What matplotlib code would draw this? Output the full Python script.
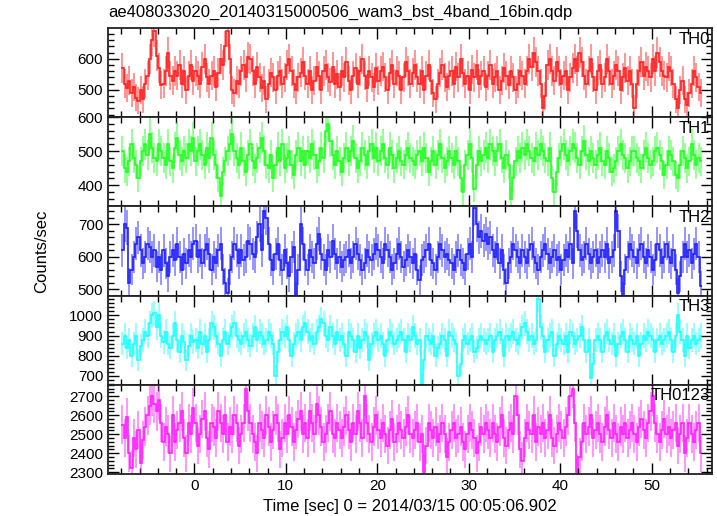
import numpy as np
import matplotlib
matplotlib.use("Agg")
import matplotlib.pyplot as plt
from matplotlib.ticker import MultipleLocator

plt.rcParams['font.family'] = ['Liberation Sans', 'DejaVu Sans']

title = "ae408033020_20140315000506_wam3_bst_4band_16bin.qdp"
xlabel = "Time [sec] 0 = 2014/03/15 00:05:06.902"
ylabel = "Counts/sec"
bands = ["TH0", "TH1", "TH2", "TH3", "TH0123"]
t_start = -7.875
bin_width = 0.25

th0 = np.array("""
570 520 505 530 490 510 475 465 500 470 520 545 600 660 690 610
570 515 520 560 620 545 530 560 545 580 520 560 500 545 580 530
560 545 520 575 600 540 520 545 560 510 555 600 580 640 690 600
500 490 530 520 560 580 540 605 600 560 520 575 540 505 530 470
520 555 540 500 545 560 520 540 580 600 560 520 500 540 555 590
545 520 560 500 530 575 545 500 560 580 540 525 575 520 550 510
560 540 590 530 500 545 570 520 560 600 545 505 560 540 510 570
530 560 575 540 500 555 580 520 560 545 500 540 590 560 520 555
580 540 520 560 500 545 580 530 490 470 520 555 580 540 510 545
560 520 575 540 600 555 520 545 500 565 540 580 520 545 560 510
545 580 520 540 560 500 530 570 545 515 560 540 500 520 560 545
520 560 600 575 620 590 560 520 440 480 580 600 560 530 590 560
520 545 560 500 540 570 600 560 620 590 545 520 560 600 540 500
560 580 520 540 600 560 520 545 580 560 500 540 570 530 560 520
440 520 560 590 545 575 560 540 600 560 620 590 560 545 540 575
560 520 470 440 500 530 470 450 490 520 560 540 510 490
""".split(), dtype=float)

th1 = np.array("""
500 450 440 470 520 480 460 420 470 500 520 490 550 510 480 470
520 500 480 460 520 470 450 510 540 490 470 500 480 520 500 540
470 500 520 490 460 510 480 540 490 460 420 370 440 470 500 520
550 500 480 460 510 470 440 490 520 470 450 480 510 540 500 460
450 490 420 460 510 470 520 450 480 500 460 430 490 510 470 500
460 500 480 520 490 450 470 510 480 560 580 530 490 460 500 470
440 480 510 470 500 530 480 450 470 510 490 460 500 520 480 510
470 500 520 480 460 510 490 450 480 500 470 460 490 510 480 470
460 490 500 470 510 480 440 470 500 460 490 520 480 450 470 500
480 460 500 470 420 380 460 490 520 480 390 460 500 470 490 510
480 520 500 470 500 520 480 450 490 460 360 420 470 500 480 510
490 520 500 480 470 510 490 520 500 480 470 510 420 380 440 480
500 520 490 470 500 520 510 480 460 500 530 490 470 500 480 460
490 510 470 460 500 480 440 450 470 500 520 490 480 450 470 500
500 480 470 450 490 510 480 460 470 500 510 490 470 430 460 500
490 470 430 420 460 500 480 450 470 520 490 460 480 470
""".split(), dtype=float)

th2 = np.array("""
620 700 690 520 560 600 640 660 620 580 600 640 630 600 620 570
600 560 620 580 540 600 620 590 640 600 560 610 580 620 600 640
650 600 620 580 620 640 610 560 600 580 620 640 560 520 490 560
600 640 620 580 620 590 600 650 640 610 600 660 700 620 740 720
640 590 560 610 640 590 560 620 580 540 600 630 480 560 700 640
590 560 620 600 580 640 670 610 590 560 620 600 650 610 580 600
570 590 600 620 580 600 640 610 590 560 580 620 600 590 610 640
620 600 580 640 620 600 560 580 610 640 600 570 590 620 600 580
610 560 530 590 600 620 640 590 580 560 600 640 620 600 610 590
580 560 600 620 590 580 560 610 640 600 750 700 660 680 650 670
640 660 620 600 640 580 620 560 520 580 600 640 620 600 580 620
600 580 620 640 600 580 560 600 620 640 610 580 600 620 590 600
560 590 620 600 640 580 740 680 620 590 600 640 610 580 600 620
580 600 620 600 640 580 600 620 740 680 540 480 560 600 640 620
600 580 620 640 600 580 620 600 560 590 640 620 580 600 640 600
580 620 560 490 540 600 640 600 620 580 610 640 600 510
""".split(), dtype=float)

th3 = np.array("""
860 900 840 880 800 860 900 780 850 880 920 900 960 1000 1010 940
1000 900 870 920 860 840 900 960 880 820 900 870 780 850 900 870
880 840 920 860 900 820 880 960 940 900 860 800 880 920 860 900
940 960 900 880 860 900 920 880 850 900 940 880 920 900 860 880
920 900 860 700 820 880 920 900 940 880 800 860 900 920 880 940
960 920 880 900 860 920 940 980 960 900 880 940 900 860 920 880
900 860 800 920 900 880 820 900 840 880 920 900 780 860 900 920
880 900 860 800 880 920 900 860 880 900 920 880 820 900 880 940
900 860 880 660 780 900 880 860 900 800 840 860 900 880 800 920
900 880 860 700 760 880 900 860 880 900 820 840 880 900 880 860
880 900 820 880 900 920 880 800 900 880 900 920 880 860 900 940
960 920 880 900 860 880 1080 940 900 820 880 900 920 800 860 900
880 860 900 820 920 900 860 880 900 940 880 820 880 690 760 880
900 880 820 900 920 880 860 900 800 860 900 920 880 820 900 880
860 900 800 860 900 880 920 900 880 820 880 900 860 880 900 920
880 820 900 1000 920 880 800 900 840 880 900 860 880 900
""".split(), dtype=float)

th0123 = np.array("""
2550 2480 2590 2400 2320 2480 2420 2520 2350 2470 2540 2600 2650 2700 2660 2620
2680 2560 2460 2540 2500 2400 2600 2460 2520 2560 2620 2480 2400 2560 2500 2640
2560 2440 2500 2580 2620 2480 2420 2560 2540 2480 2620 2560 2500 2600 2460 2540
2500 2600 2560 2440 2500 2560 2740 2620 2560 2500 2460 2400 2560 2520 2480 2600
2540 2460 2520 2600 2560 2420 2480 2560 2500 2600 2540 2460 2520 2580 2620 2500
2560 2480 2620 2560 2500 2660 2600 2540 2460 2500 2560 2620 2500 2480 2560 2520
2480 2540 2600 2520 2460 2560 2500 2620 2560 2480 2700 2560 2500 2460 2540 2600
2520 2480 2560 2500 2440 2520 2580 2460 2500 2560 2520 2480 2540 2600 2500 2480
2520 2560 2460 2500 2300 2440 2560 2520 2480 2540 2460 2500 2560 2500 2380 2460
2520 2560 2480 2500 2540 2460 2420 2500 2560 2520 2480 2400 2460 2540 2500 2560
2520 2480 2560 2500 2460 2540 2600 2480 2440 2520 2560 2500 2700 2600 2420 2360
2480 2560 2520 2500 2600 2460 2540 2500 2560 2480 2520 2600 2480 2440 2500 2560
2520 2480 2540 2600 2700 2740 2560 2300 2380 2460 2560 2500 2540 2600 2480 2520
2560 2500 2460 2540 2600 2520 2480 2560 2500 2460 2540 2500 2560 2480 2520 2560
2500 2460 2540 2580 2520 2480 2560 2620 2700 2560 2500 2460 2520 2580 2500 2540
2480 2520 2560 2440 2500 2560 2400 2480 2560 2500 2460 2520 2560 2400
""".split(), dtype=float)

series = [th0, th1, th2, th3, th0123]
colors = ["#ff2020", "#20ff20", "#2020ff", "#20ffff", "#ff20ff"]
ylims = [(412, 699), (338, 600), (481, 755), (656, 1098), (2290, 2760)]
xlim = (-9.45, 56.6)

W, H = 717, 516
fig = plt.figure(figsize=(W / 100, H / 100), dpi=100)

left_px, right_px = 108, 712
top_px, bottom_px = 28, 474
ph = (bottom_px - top_px) / 5.0

for k, (vals, col, yl, name) in enumerate(zip(series, colors, ylims, bands)):
    y0 = top_px + ph * (k + 1)
    ax = fig.add_axes([left_px / W, 1 - y0 / H, (right_px - left_px) / W, ph / H])
    t = t_start + bin_width * np.arange(len(vals))
    edges = t_start - bin_width / 2 + bin_width * np.arange(len(vals) + 1)
    err = 2.0 * np.sqrt(vals)
    ax.vlines(t, vals - err, vals + err, color=col, alpha=0.6, lw=1.1)
    ax.stairs(vals, edges, color=col, lw=1.2, baseline=None)
    ax.set_xlim(*xlim)
    ax.set_ylim(*yl)
    ax.xaxis.set_major_locator(MultipleLocator(10))
    ax.xaxis.set_minor_locator(MultipleLocator(2))
    ax.yaxis.set_major_locator(MultipleLocator(100))
    ax.yaxis.set_minor_locator(MultipleLocator(20))
    ax.tick_params(which='both', direction='in', top=True, right=True,
                   labelsize=11, colors='black', width=1)
    ax.tick_params(which='major', length=8)
    ax.tick_params(which='minor', length=4)
    for s in ax.spines.values():
        s.set_linewidth(1.3)
        s.set_color('#222222')
    if k < 4:
        ax.tick_params(labelbottom=False)
    ax.text(0.997, 0.96, name, transform=ax.transAxes, ha='right', va='top',
            fontsize=12)

fig.text(left_px / W, 1 - 12 / H, title, ha='left', va='center', fontsize=12)
fig.text(42 / W, 1 - 251 / H, ylabel, rotation=90, ha='center', va='center',
         fontsize=12)
fig.text((left_px + right_px) / 2 / W, 1 - 507 / H, xlabel, ha='center',
         va='center', fontsize=12)

fig.savefig("out.png", dpi=100)
